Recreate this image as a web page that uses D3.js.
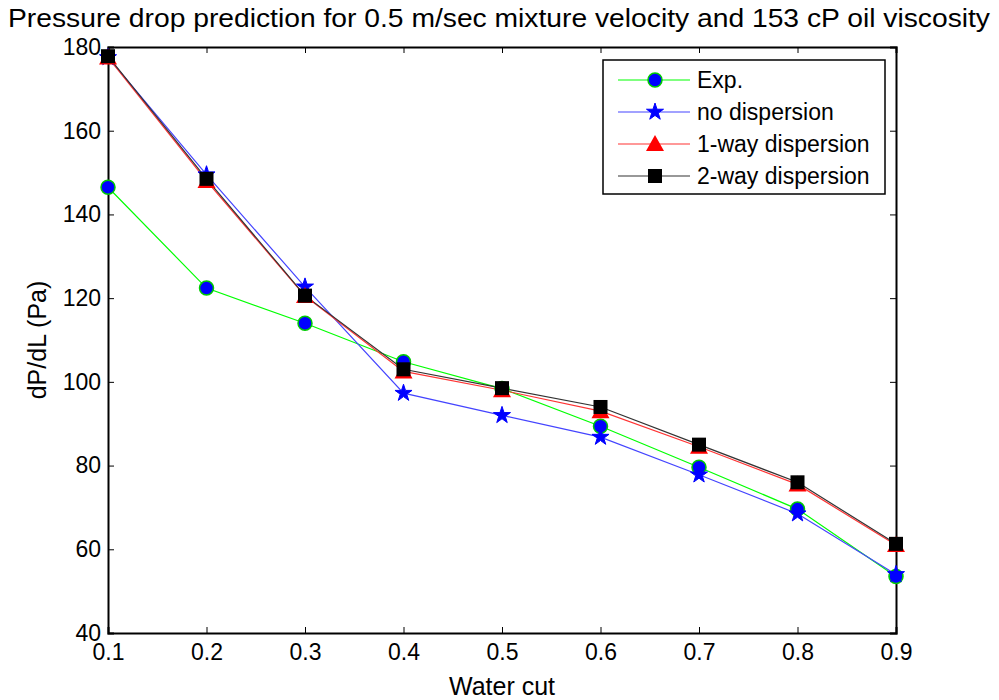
<!DOCTYPE html>
<html>
<head>
<meta charset="utf-8">
<script src="https://cdn.jsdelivr.net/npm/d3@7"></script>
<style>
body{margin:0;background:#fff;}
text{font-family:"Liberation Sans",Arial,sans-serif;}
</style>
</head>
<body>
<div id="chart"></div>
<script>

// DATA

const waterCut = [0.1,0.2,0.3,0.4,0.5,0.6,0.7,0.8,0.9]
const expData = [146.5,122.4,114,104.8,98.4,89.4,79.6,69.6,53.5]
const noDisp = [177.5,149.5,122.7,97.3,92,86.8,77.8,68.5,54]
const oneWay = [177.5,148,120.5,102.5,98,93,84.5,75.5,61]
const twoWay = [177.8,148.5,120.6,103,98.5,94,85,76,61.3]
const xTicks = [0.1,0.2,0.3,0.4,0.5,0.6,0.7,0.8,0.9]
const yTicks = [40,60,80,100,120,140,160,180]
const seriesNames = ["Exp.","no dispersion","1-way dispersion","2-way dispersion"]

const width = 999
const height = 700
const margin = {top:47,right:103,bottom:67,left:108}

const svg = d3.select("#chart")
.append("svg")
.attr("width",width)
.attr("height",height)

const x = d3.scaleLinear()
.domain([0.1,0.9])
.range([margin.left,width-margin.right])

const y = d3.scaleLinear()
.domain([40,180])
.range([height-margin.bottom,margin.top])


// AXES (matlab style, ticks inside, box)

svg.append("g")
.attr("transform",`translate(0,${height-margin.bottom})`)
.call(d3.axisBottom(x).tickValues(xTicks).tickSize(-6).tickPadding(11).tickFormat(d3.format(".1f")))

svg.append("g")
.attr("transform",`translate(${margin.left},0)`)
.call(d3.axisLeft(y).tickValues(yTicks).tickSize(-6).tickPadding(7))

svg.append("g")
.attr("transform",`translate(0,${margin.top})`)
.call(d3.axisTop(x).tickValues(xTicks).tickSize(-6).tickFormat(""))

svg.append("g")
.attr("transform",`translate(${width-margin.right},0)`)
.call(d3.axisRight(y).tickValues(yTicks).tickSize(-6).tickFormat(""))

svg.selectAll(".domain")
.attr("stroke","#000")
.attr("stroke-width",2)

svg.selectAll(".tick line")
.attr("stroke","#000")

svg.selectAll(".tick text")
.attr("font-size",23)
.attr("fill","#000")
.style("font-family","Liberation Sans, Arial, sans-serif")


// LINES + MARKERS

const series = [
{name:seriesNames[0],values:expData,line:"#00ff00",marker:"circle"},
{name:seriesNames[1],values:noDisp,line:"#4444ff",marker:"star"},
{name:seriesNames[2],values:oneWay,line:"#ff3333",marker:"triangle"},
{name:seriesNames[3],values:twoWay,line:"#333333",marker:"square"}
]

const line = d3.line()
.x(d=>x(d[0]))
.y(d=>y(d[1]))

function drawMarker(g,type,cx,cy){
if(type=="circle"){
g.append("circle")
.attr("cx",cx).attr("cy",cy).attr("r",7)
.attr("fill","#0000ff").attr("stroke","#00cc00").attr("stroke-width",1.5)
}else if(type=="star"){
g.append("path")
.attr("d",d3.symbol().type(d3.symbolStar).size(90)())
.attr("transform",`translate(${cx},${cy})`)
.attr("fill","#0000ff").attr("stroke","#0000ff").attr("stroke-width",1)
}else if(type=="triangle"){
g.append("path")
.attr("d",`M${cx},${cy-9}L${cx+9},${cy+7}L${cx-9},${cy+7}Z`)
.attr("fill","#ff0000")
}else{
g.append("rect")
.attr("x",cx-7).attr("y",cy-7).attr("width",14).attr("height",14)
.attr("fill","#000")
}
}

series.forEach(s=>{
const pts = waterCut.map((w,i)=>[w,s.values[i]])
svg.append("path")
.datum(pts)
.attr("fill","none")
.attr("stroke",s.line)
.attr("stroke-width",1.2)
.attr("d",line)
})

series.forEach(s=>{
const g = svg.append("g")
waterCut.forEach((w,i)=>drawMarker(g,s.marker,x(w),y(s.values[i])))
})


// LEGEND

const legend = svg.append("g")

legend.append("rect")
.attr("x",603).attr("y",60)
.attr("width",282).attr("height",134)
.attr("fill","#fff")
.attr("stroke","#000")
.attr("stroke-width",1.5)

series.forEach((s,i)=>{
const ly = 80+i*32
legend.append("line")
.attr("x1",618).attr("x2",690)
.attr("y1",ly).attr("y2",ly)
.attr("stroke",s.line)
.attr("stroke-width",1.2)
drawMarker(legend,s.marker,655,ly)
legend.append("text")
.attr("x",697).attr("y",ly+8)
.attr("font-size",23)
.text(s.name)
})


// TITLES

svg.append("text")
.attr("x",499).attr("y",27)
.attr("text-anchor","middle")
.attr("font-size",25)
.attr("textLength",982)
.attr("lengthAdjust","spacingAndGlyphs")
.text("Pressure drop prediction for 0.5 m/sec mixture velocity and 153 cP oil viscosity")

svg.append("text")
.attr("x",502).attr("y",695)
.attr("text-anchor","middle")
.attr("font-size",25)
.text("Water cut")

svg.append("text")
.attr("transform","translate(46,340) rotate(-90)")
.attr("text-anchor","middle")
.attr("font-size",25)
.text("dP/dL (Pa)")

</script>
</body>
</html>
